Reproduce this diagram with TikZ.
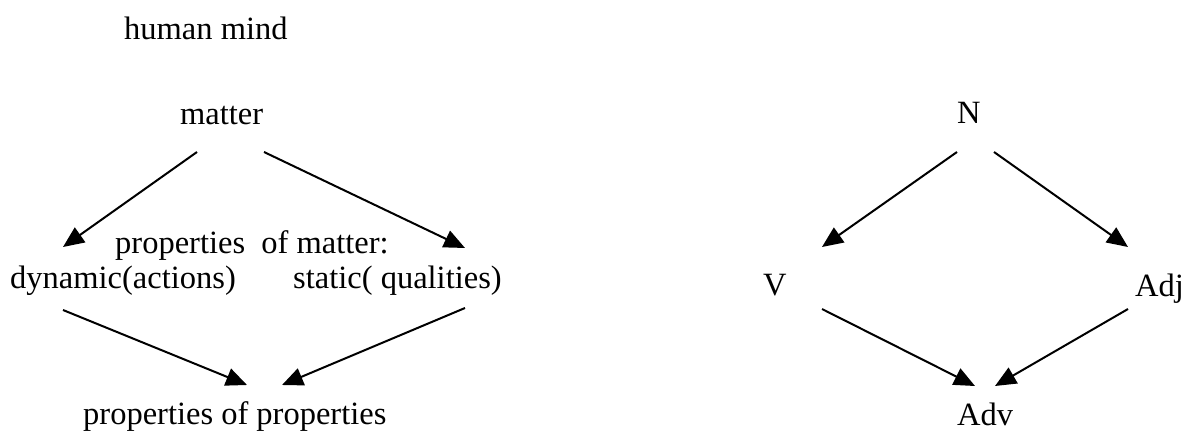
\documentclass[tikz,border=0pt]{standalone}
\usepackage{fontspec}
\setmainfont{Liberation Serif}
\usetikzlibrary{arrows.meta}
\begin{document}
\begin{tikzpicture}[x=1pt,y=-1pt,
  lbl/.style={anchor=base west,inner sep=0pt,font=\fontsize{32.5}{38}\selectfont},
  arr/.style={line width=2pt,-{Triangle[length=21pt,width=18pt]}}]
\fill[white] (0,0) rectangle (1198,435);
\node[lbl] (hm) at (124,40) {human mind};
\node[lbl] (matter) at (180,125) {matter};
\node[lbl] (pom) at (115,254) {properties\ \ of matter:};
\node[lbl] (dyn) at (10,289) {dynamic(actions)};
\node[lbl] (stat) at (293,289) {static( qualities)};
\node[lbl] (pp) at (83,424) {properties of properties};
\node[lbl] (N) at (957,124) {N};
\node[lbl] (V) at (763,296) {V};
\node[lbl] (Adj) at (1135,297) {Adj};
\node[lbl] (Adv) at (957,425) {Adv};
\draw[arr] ([shift={(17,27)}]matter.base west) -- ([shift={(53,-42)}]dyn.base west);
\draw[arr] ([shift={(84,27)}]matter.base west) -- ([shift={(172,-41)}]stat.base west);
\draw[arr] ([shift={(53,21)}]dyn.base west) -- ([shift={(164,-39)}]pp.base west);
\draw[arr] ([shift={(172,19)}]stat.base west) -- ([shift={(199,-39)}]pp.base west);
\draw[arr] ([shift={(0,28)}]N.base west) -- ([shift={(59,-49)}]V.base west);
\draw[arr] ([shift={(37,28)}]N.base west) -- ([shift={(-7,-50)}]Adj.base west);
\draw[arr] ([shift={(59,13)}]V.base west) -- ([shift={(18,-39)}]Adv.base west);
\draw[arr] ([shift={(-7,12)}]Adj.base west) -- ([shift={(38,-39)}]Adv.base west);
\end{tikzpicture}
\end{document}
